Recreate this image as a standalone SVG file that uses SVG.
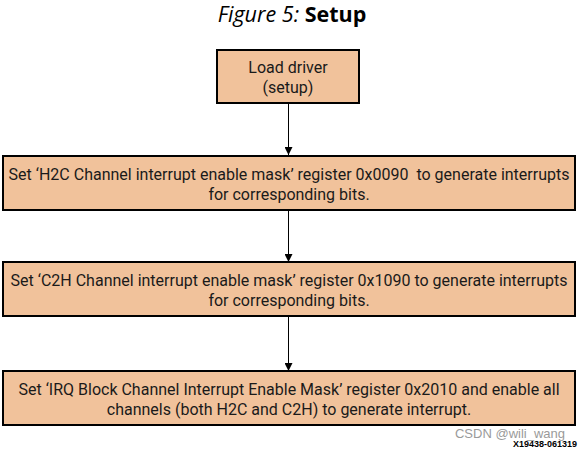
<svg xmlns="http://www.w3.org/2000/svg" width="585" height="450" viewBox="0 0 585 450">
<style>
.box{fill:#F1C29B;stroke:#000;stroke-width:2}
.t{font-family:Roboto,"Liberation Sans",sans-serif;font-size:16px;fill:#1a1a1a;text-anchor:middle}
.c{stroke:#000;stroke-width:1;fill:none;marker-end:url(#ah)}
</style>
<defs>
<marker id="ah" viewBox="0 0 10 10" refX="10" refY="5" markerWidth="8" markerHeight="8" markerUnits="userSpaceOnUse" orient="auto">
<path d="M0,0 L10,5 L0,10 z" fill="#000"/>
</marker>
</defs>
<rect width="585" height="450" fill="#fff"/>
<text x="292" y="22" text-anchor="middle" font-family="'Open Sans','Noto Sans',sans-serif" font-size="21.5" fill="#000"><tspan font-style="italic">Figure 5:</tspan> <tspan font-weight="bold">Setup</tspan></text>
<g id="connectors">
<line class="c" x1="288.5" y1="103" x2="288.5" y2="155"/>
<line class="c" x1="288.5" y1="210" x2="288.5" y2="262"/>
<line class="c" x1="288.5" y1="316" x2="288.5" y2="371"/>
</g>
<g id="n1">
<rect class="box" x="217" y="50" width="142" height="53"/>
<text class="t" x="288" y="73">Load driver</text>
<text class="t" x="288" y="93">(setup)</text>
</g>
<g id="n2">
<rect class="box" x="3" y="156" width="572" height="54"/>
<text class="t" x="289" y="180">Set ‘H2C Channel interrupt enable mask’ register 0x0090&#160; to generate interrupts</text>
<text class="t" x="289" y="200">for corresponding bits.</text>
</g>
<g id="n3">
<rect class="box" x="3" y="262" width="572" height="54"/>
<text class="t" x="289" y="286">Set ‘C2H Channel interrupt enable mask’ register 0x1090 to generate interrupts</text>
<text class="t" x="289" y="306">for corresponding bits.</text>
</g>
<g id="n4">
<rect class="box" x="3" y="371" width="572" height="54"/>
<text class="t" x="289" y="395">Set ‘IRQ Block Channel Interrupt Enable Mask’ register 0x2010 and enable all</text>
<text class="t" x="289" y="415">channels (both H2C and C2H) to generate interrupt.</text>
</g>
<text x="565" y="438" text-anchor="end" font-family="'Liberation Sans',sans-serif" font-size="13" fill="#9a9a9a">CSDN @wili_wang</text>
<text x="577" y="447" text-anchor="end" font-family="'Liberation Sans',sans-serif" font-size="9" font-weight="bold" fill="#000">X19438-061319</text>
</svg>
